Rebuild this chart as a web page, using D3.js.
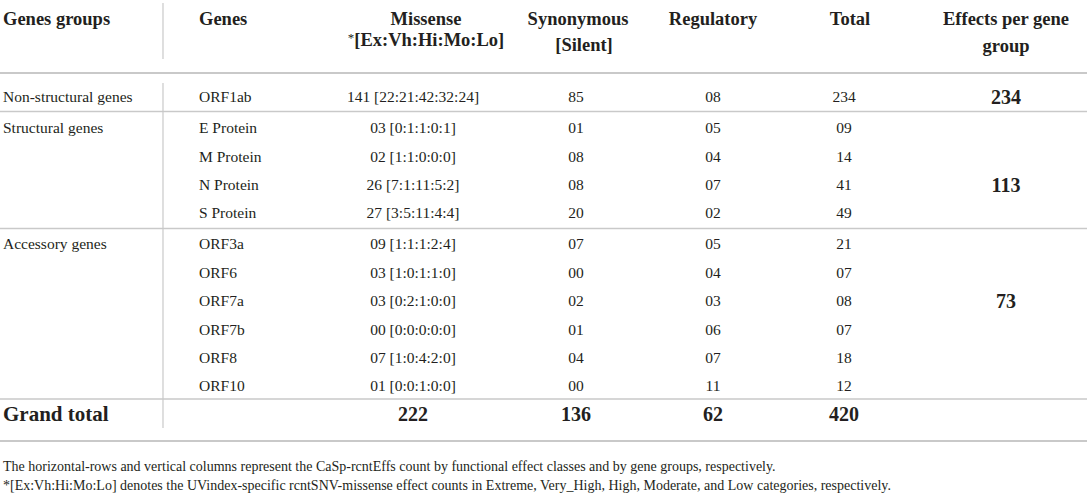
<!DOCTYPE html>
<html>
<head>
<meta charset="utf-8">
<script src="https://cdn.jsdelivr.net/npm/d3@7"></script>
<style>
  html, body { margin: 0; padding: 0; background: #fff; }
  svg { display: block; }
  text { font-family: "Liberation Serif", "Times New Roman", serif; fill: #231f20; }
</style>
</head>
<body>
<svg id="chart" width="1091" height="497"></svg>
<script>
// ---- data ----
const groups = ["Non-structural genes", "Structural genes", "Accessory genes"];
const genes = ["ORF1ab", "E Protein", "M Protein", "N Protein", "S Protein",
               "ORF3a", "ORF6", "ORF7a", "ORF7b", "ORF8", "ORF10"];
const geneGroup = [0, 1, 1, 1, 1, 2, 2, 2, 2, 2, 2];
const missense = [141, 3, 2, 26, 27, 9, 3, 3, 0, 7, 1];
const uvIndex = [
  [22, 21, 42, 32, 24], [0, 1, 1, 0, 1], [1, 1, 0, 0, 0], [7, 1, 11, 5, 2], [3, 5, 11, 4, 4],
  [1, 1, 1, 2, 4], [1, 0, 1, 1, 0], [0, 2, 1, 0, 0], [0, 0, 0, 0, 0], [1, 0, 4, 2, 0], [0, 0, 1, 0, 0]
];
const synonymous = [85, 1, 8, 8, 20, 7, 0, 2, 1, 4, 0];
const regulatory = [8, 5, 4, 7, 2, 5, 4, 3, 6, 7, 11];
const total = [234, 9, 14, 41, 49, 21, 7, 8, 7, 18, 12];
const groupEffects = [234, 113, 73];
const groupEffectsGene = ["ORF1ab", "N Protein", "ORF7a"];
const grandTotal = [222, 136, 62, 420];
const columns = ["Genes groups", "Genes", "Missense", "Synonymous", "Regulatory", "Total", "Effects per gene group"];
const footnotes = [
  "The horizontal-rows and vertical columns represent the CaSp-rcntEffs count by functional effect classes and by gene groups, respectively.",
  "*[Ex:Vh:Hi:Mo:Lo] denotes the UVindex-specific rcntSNV-missense effect counts in Extreme, Very_High, High, Moderate, and Low categories, respectively."
];

// ---- layout ----
const svg = d3.select("#chart");
const W = 1091;
const fmt = d3.format("02d");
const lineColor = "#c9c9c9";

const colX = d3.scaleOrdinal()
  .domain(["group", "gene", "mis", "misHead", "syn", "synHead", "reg", "tot", "totHead", "eff"])
  .range([3, 199, 413, 426, 576, 578, 713, 844, 850, 1006]);

const rowIdx = genes.map((g, i) => i + geneGroup[i] * 0.08);
const y = d3.scaleLinear().domain([0, 10 + 2 * 0.08]).range([97, 386]);

// ---- header ----
const hdr = svg.append("g").attr("font-weight", "bold").attr("font-size", 18.5);
const h1 = 19, h2 = 45;
function htext(x, yy, t, anchor) {
  hdr.append("text").attr("x", x).attr("y", yy).attr("dy", "0.35em")
    .attr("text-anchor", anchor || "middle").text(t);
}
htext(colX("group"), h1, columns[0], "start");
htext(colX("gene"), h1, columns[1], "start");
htext(colX("misHead"), h1, columns[2]);
htext(colX("synHead"), h1, columns[3]);
htext(colX("reg"), h1, columns[4]);
htext(colX("totHead"), h1, columns[5]);
htext(colX("eff"), h1, "Effects per gene");
htext(colX("eff"), h2 + 1, "group");
const h2g = svg.append("g").attr("font-size", 18.5);
const mt = h2g.append("text").attr("x", colX("misHead")).attr("y", h2).attr("dy", "0.35em").attr("text-anchor", "middle");
mt.append("tspan").attr("font-weight", "normal").attr("font-size", 13).attr("dy", "-0.2em").text("*");
mt.append("tspan").attr("font-weight", "bold").attr("dy", "0.2em").text("[Ex:Vh:Hi:Mo:Lo]");
h2g.append("text").attr("x", colX("synHead") + 6).attr("y", h2).attr("dy", "0.35em")
  .attr("text-anchor", "middle").attr("font-weight", "bold").text("[Silent]");

// ---- lines ----
const lines = svg.append("g").attr("stroke", lineColor).attr("fill", "none");
lines.append("line").attr("x1", 0).attr("x2", W - 4).attr("y1", 73).attr("y2", 73).attr("stroke-width", 2);
const sepY = [111.5, 228.5, 399];
sepY.forEach(sy => lines.append("line").attr("x1", 0).attr("x2", W - 4)
  .attr("y1", sy).attr("y2", sy).attr("stroke-width", 1.6));
lines.append("line").attr("x1", 0).attr("x2", W - 4).attr("y1", 441).attr("y2", 441).attr("stroke-width", 2.2);
lines.append("line").attr("x1", 163).attr("x2", 163).attr("y1", 3).attr("y2", 59).attr("stroke-width", 1.2);
lines.append("line").attr("x1", 163).attr("x2", 163).attr("y1", 83).attr("y2", 428).attr("stroke-width", 1.2);

// ---- body ----
const body = svg.append("g").attr("font-size", 15.5);
const rows = body.selectAll("g.row").data(genes).join("g").attr("class", "row")
  .attr("transform", (d, i) => `translate(0,${y(rowIdx[i])})`);
rows.append("text").attr("x", colX("gene")).attr("dy", "0.35em").text(d => d);
rows.append("text").attr("x", colX("mis")).attr("dy", "0.35em").attr("text-anchor", "middle")
  .text((d, i) => `${fmt(missense[i])} [${uvIndex[i].join(":")}]`);
rows.append("text").attr("x", colX("syn")).attr("dy", "0.35em").attr("text-anchor", "middle")
  .text((d, i) => fmt(synonymous[i]));
rows.append("text").attr("x", colX("reg")).attr("dy", "0.35em").attr("text-anchor", "middle")
  .text((d, i) => fmt(regulatory[i]));
rows.append("text").attr("x", colX("tot")).attr("dy", "0.35em").attr("text-anchor", "middle")
  .text((d, i) => fmt(total[i]));

groups.forEach((g, gi) => {
  const first = geneGroup.indexOf(gi);
  body.append("text").attr("x", colX("group")).attr("y", y(rowIdx[first])).attr("dy", "0.35em").text(g);
  const gIdx = genes.indexOf(groupEffectsGene[gi]);
  svg.append("text").attr("x", colX("eff")).attr("y", y(rowIdx[gIdx])).attr("dy", "0.35em")
    .attr("text-anchor", "middle").attr("font-weight", "bold").attr("font-size", 20)
    .text(groupEffects[gi]);
});

// ---- grand total ----
const gt = svg.append("g").attr("font-weight", "bold").attr("font-size", 20);
const gy = 414;
gt.append("text").attr("x", colX("group")).attr("y", gy).attr("dy", "0.35em").attr("font-size", 21).text("Grand total");
["mis", "syn", "reg", "tot"].forEach((c, i) => {
  gt.append("text").attr("x", colX(c)).attr("y", gy).attr("dy", "0.35em")
    .attr("text-anchor", "middle").text(grandTotal[i]);
});

// ---- footnotes ----
const fn = svg.append("g").attr("font-size", 14);
footnotes.forEach((t, i) => {
  fn.append("text").attr("x", 3).attr("y", 466 + i * 19).attr("dy", "0.35em").text(t);
});
</script>
</body>
</html>
